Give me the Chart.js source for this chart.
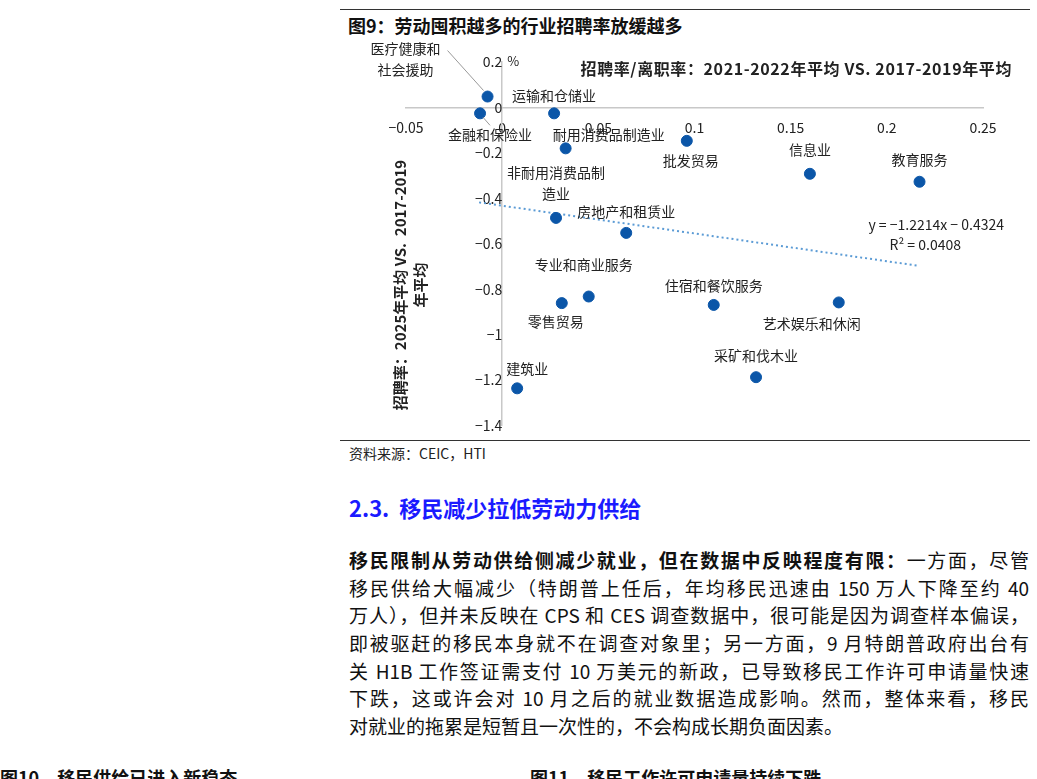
<!DOCTYPE html>
<html><head><meta charset="utf-8">
<script src="https://cdn.jsdelivr.net/npm/chart.js@4.4.0/dist/chart.umd.min.js"></script>
<style>
body{margin:0;background:#fff;font-family:"Noto Sans CJK SC","Noto Sans",sans-serif;color:#111;width:1037px;height:779px;overflow:hidden;position:relative}
.abs{position:absolute}
.rule{position:absolute;left:340px;width:690px;height:0;border-top:1.5px solid #333}
.para div{text-align:justify;text-align-last:justify;height:27.7px;line-height:27.7px;font-size:19px;white-space:nowrap}
</style></head>
<body>
<div class="rule" style="top:9px"></div>
<div class="abs" style="left:348px;top:12px;font-size:18px;font-weight:bold">图9：劳动囤积越多的行业招聘率放缓越多</div>
<div class="abs" style="left:340px;top:40px;width:690px;height:400px"><canvas id="c" width="690" height="400"></canvas></div>
<div class="rule" style="top:440px"></div>
<div class="abs" style="left:349px;top:443px;font-size:14px;color:#222">资料来源：CEIC，HTI</div>
<div class="abs" style="left:349px;top:491px;font-size:22px;font-weight:bold;color:#1a1aff">2.3.&nbsp;&nbsp;移民减少拉低劳动力供给</div>
<div class="abs para" style="left:349px;top:546px;width:680px">
<div><b>移民限制从劳动供给侧减少就业，但在数据中反映程度有限：</b>一方面，尽管</div>
<div>移民供给大幅减少（特朗普上任后，年均移民迅速由 150 万人下降至约 40</div>
<div>万人），但并未反映在 CPS 和 CES 调查数据中，很可能是因为调查样本偏误，</div>
<div>即被驱赶的移民本身就不在调查对象里；另一方面，9 月特朗普政府出台有</div>
<div>关 H1B 工作签证需支付 10 万美元的新政，已导致移民工作许可申请量快速</div>
<div>下跌，这或许会对 10 月之后的就业数据造成影响。然而，整体来看，移民</div>
<div style="text-align-last:left">对就业的拖累是短暂且一次性的，不会构成长期负面因素。</div>
</div>
<div class="abs" style="left:0;top:764px;font-size:18px;font-weight:bold">图10　移民供给已进入新稳态</div>
<div class="abs" style="left:530px;top:764px;font-size:18px;font-weight:bold">图11　移民工作许可申请量持续下跌</div>
<script>
const industries = ["医疗健康和社会援助","金融和保险业","运输和仓储业","耐用消费品制造业","批发贸易","信息业","教育服务","非耐用消费品制造业","房地产和租赁业","专业和商业服务","零售贸易","住宿和餐饮服务","艺术娱乐和休闲","采矿和伐木业","建筑业"];
const xValues = [-0.0076,-0.0115,0.027,0.033,0.096,0.160,0.217,0.028,0.0645,0.045,0.031,0.110,0.175,0.132,0.0078];
const yValues = [0.048,-0.026,-0.026,-0.18,-0.147,-0.292,-0.327,-0.486,-0.552,-0.832,-0.861,-0.869,-0.858,-1.187,-1.236];
const xTicks = [-0.05,0,0.05,0.1,0.15,0.2,0.25];
const yTicks = [0.2,0,-0.2,-0.4,-0.6,-0.8,-1,-1.2,-1.4];
const slope = -1.2214, intercept = -0.4324, rSquared = 0.0408;
const trendX = [-0.012, 0.216];

// label placement: [lines, dx, dy] in px relative to the point
const labelPlace = [
  [["医疗健康和","社会援助"],-82,-48],
  [["金融和保险业"],10,21],
  [["运输和仓储业"],0,-18],
  [["耐用消费品制造业"],43,-14],
  [["批发贸易"],4,20],
  [["信息业"],0,-24],
  [["教育服务"],0,-22],
  [["非耐用消费品制","造业"],0,-45],
  [["房地产和租赁业"],0,-21],
  [["专业和商业服务"],-5,-32],
  [["零售贸易"],-6,19],
  [["住宿和餐饮服务"],0,-19],
  [["艺术娱乐和休闲"],-27,21],
  [["采矿和伐木业"],0,-22],
  [["建筑业"],10,-20]
];

const fmt = v => v === 0 ? "0" : String(v).replace("-", "−");
const FONT = '"Noto Sans CJK SC", sans-serif';

const textPlugin = {
  id: "texts",
  afterDatasetsDraw(chart) {
    const ctx = chart.ctx, xs = chart.scales.x, ys = chart.scales.y;
    ctx.save();
    ctx.fillStyle = "#222";
    ctx.font = "14px " + FONT;
    ctx.textAlign = "center";
    ctx.textBaseline = "middle";
    labelPlace.forEach(([lines, dx, dy], i) => {
      const px = xs.getPixelForValue(xValues[i]) + dx;
      const py = ys.getPixelForValue(yValues[i]) + dy;
      lines.forEach((t, k) => ctx.fillText(t, px, py + k * 21));
    });
    // leader lines
    const hx = xs.getPixelForValue(xValues[0]), hy = ys.getPixelForValue(yValues[0]);
    ctx.strokeStyle = "#999"; ctx.lineWidth = 1;
    ctx.beginPath(); ctx.moveTo(hx - 40, hy - 46); ctx.lineTo(hx - 4, hy - 6); ctx.stroke();
    ctx.beginPath(); ctx.moveTo(xs.getPixelForValue(xValues[1]) + 3, ys.getPixelForValue(yValues[1]) + 4);
    ctx.lineTo(xs.getPixelForValue(xValues[1]) + 10, ys.getPixelForValue(yValues[1]) + 12); ctx.stroke();
    // header inside chart
    ctx.font = "bold 16px " + FONT;
    ctx.textAlign = "right";
    ctx.letterSpacing = "0.6px";
    ctx.fillText("招聘率/离职率：2021-2022年平均 VS. 2017-2019年平均", 672, 29);
    ctx.letterSpacing = "0px";
    ctx.font = "13px " + FONT;
    ctx.textAlign = "left";
    ctx.fillText("%", xs.getPixelForValue(0) + 5, 21);
    ctx.font = "14px " + FONT;
    ctx.textAlign = "right";
    ctx.fillText("y = −" + Math.abs(slope) + "x − " + Math.abs(intercept), 664, 185);
    ctx.fillText("R² = " + rSquared, 621, 205);
    // y title
    ctx.font = "bold 15px " + FONT;
    ctx.textAlign = "center";
    ctx.translate(60, 245); ctx.rotate(-Math.PI / 2);
    ctx.fillText("招聘率：2025年平均 VS.  2017-2019", 0, 0);
    ctx.fillText("年平均", 0, 20);
    ctx.restore();
  }
};

new Chart(document.getElementById("c"), {
  type: "scatter",
  data: {
    datasets: [
      {
        data: xValues.map((x, i) => ({ x, y: yValues[i] })),
        backgroundColor: "#0b56a8",
        borderColor: "#0b56a8",
        pointRadius: 5.5,
      },
      {
        type: "line",
        data: trendX.map(x => ({ x, y: slope * x + intercept })),
        borderColor: "#5b9bd5",
        borderWidth: 2,
        borderDash: [2, 3],
        pointRadius: 0,
        fill: false,
      },
    ],
  },
  plugins: [textPlugin],
  options: {
    responsive: false,
    animation: false,
    layout: { padding: { left: 66, right: 47, top: 22, bottom: 8 } },
    plugins: { legend: { display: false }, tooltip: { enabled: false } },
    scales: {
      x: {
        type: "linear", min: -0.05, max: 0.25, position: { y: 0 },
        afterBuildTicks: a => { a.ticks = xTicks.map(v => ({ value: v })); },
        grid: { display: false },
        border: { color: "#c8c8c8", width: 1.5 },
        ticks: { color: "#222", font: { size: 14, family: FONT }, callback: fmt, padding: 4 },
      },
      y: {
        type: "linear", min: -1.4, max: 0.2, position: { x: 0 },
        afterBuildTicks: a => { a.ticks = yTicks.map(v => ({ value: v })); },
        grid: { display: false },
        border: { color: "#c8c8c8", width: 1.5 },
        ticks: { color: "#222", font: { size: 14, family: FONT }, callback: fmt, padding: 6 },
      },
    },
  },
});
</script>
</body></html>
